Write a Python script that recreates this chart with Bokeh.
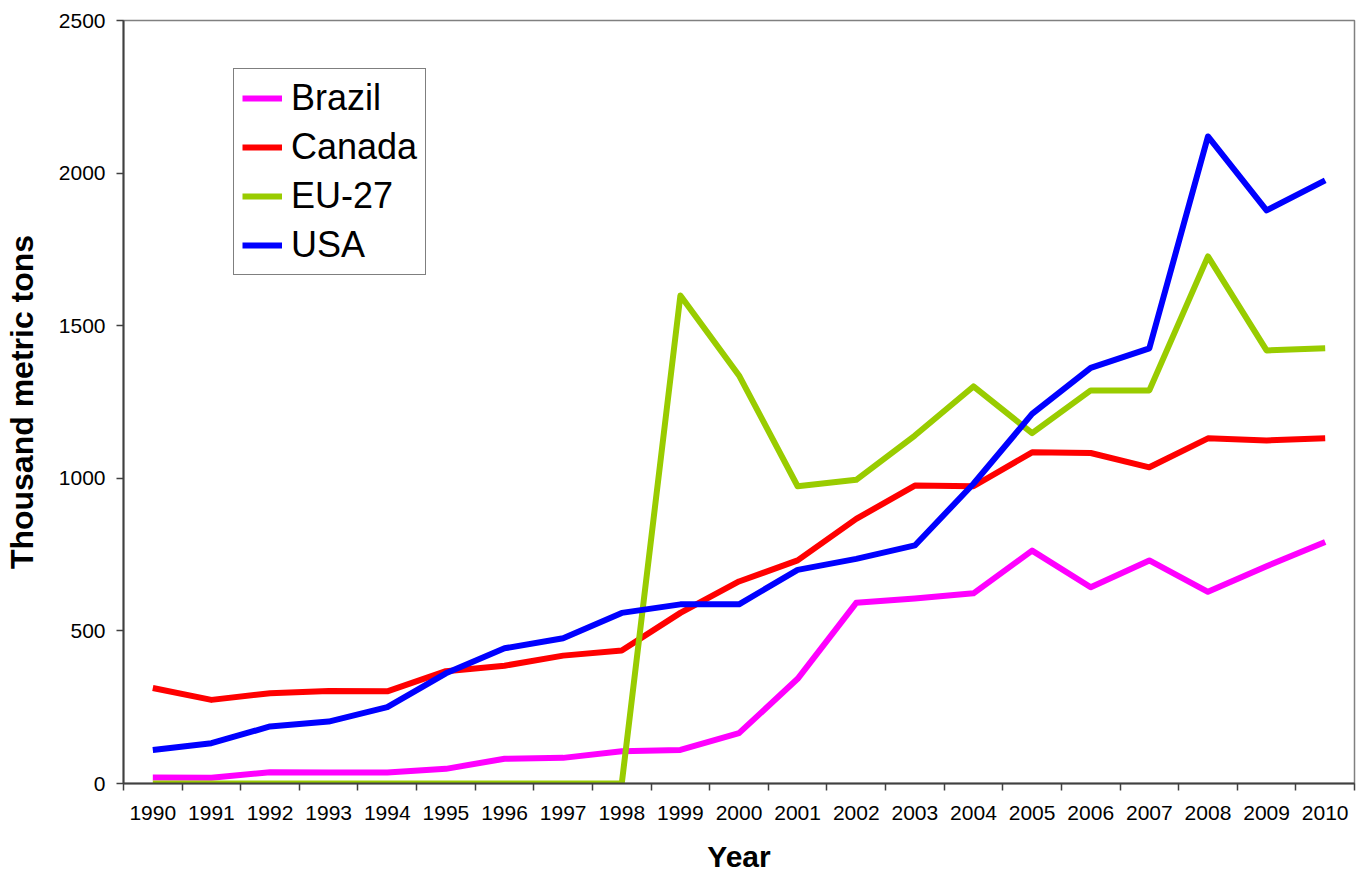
from bokeh.plotting import figure
from bokeh.models import (Range1d, FixedTicker, Legend, LegendItem, LinearAxis,
                          BasicTickFormatter)
from bokeh.embed import file_html
from bokeh.resources import INLINE

years = [1990, 1991, 1992, 1993, 1994, 1995, 1996, 1997, 1998, 1999, 2000,
         2001, 2002, 2003, 2004, 2005, 2006, 2007, 2008, 2009, 2010]
brazil = [20, 19, 37, 36, 36, 48, 81, 84, 106, 110, 165,
          343, 592, 606, 623, 763, 643, 731, 628, 712, 791]
canada = [313, 274, 296, 303, 302, 368, 386, 419, 436, 559, 662,
          731, 867, 976, 974, 1085, 1083, 1036, 1131, 1124, 1131]
eu27 = [0, 0, 0, 0, 0, 0, 0, 0, 0, 1599, 1337,
        974, 995, 1140, 1301, 1148, 1288, 1288, 1727, 1419, 1426]
usa = [110, 132, 187, 203, 250, 361, 443, 476, 559, 587, 587,
       700, 736, 780, 982, 1211, 1362, 1426, 2120, 1878, 1976]

series_names = ["Brazil", "Canada", "EU-27", "USA"]
series_values = [brazil, canada, eu27, usa]
series_colors = ["#FF00FF", "#FF0000", "#99CC00", "#0000FF"]
y_ticks = [0, 500, 1000, 1500, 2000, 2500]
grid_ticks = [500, 1000, 1500, 2000]

FONT = "Liberation Sans"

p = figure(width=1356, height=875, output_backend="svg", toolbar_location=None,
           x_range=Range1d(years[0] - 0.5, years[-1] + 0.5),
           y_range=Range1d(0, 2500),
           min_border_left=123, min_border_right=2, min_border_top=20,
           min_border_bottom=92, x_axis_type=None, y_axis_type=None)
p.outline_line_color = "#808080"
p.outline_line_width = 1.5

xaxis = LinearAxis(ticker=FixedTicker(ticks=years,
                                      minor_ticks=[y - 0.5 for y in years] + [years[-1] + 0.5]),
                   formatter=BasicTickFormatter(use_scientific=False))
xaxis.axis_label = "Year"
xaxis.axis_label_text_font = FONT
xaxis.axis_label_text_font_style = "bold"
xaxis.axis_label_text_font_size = "30px"
xaxis.axis_label_text_color = "black"
xaxis.axis_label_standoff = 17
xaxis.major_label_text_font = FONT
xaxis.major_label_text_font_size = "21px"
xaxis.major_label_text_color = "black"
xaxis.major_label_standoff = 15
xaxis.major_tick_out = 0
xaxis.major_tick_in = 0
xaxis.major_tick_line_color = None
xaxis.minor_tick_out = 7
xaxis.minor_tick_in = 0
xaxis.minor_tick_line_color = "#404040"
xaxis.minor_tick_line_width = 1.5
xaxis.axis_line_color = "#404040"
xaxis.axis_line_width = 2
p.add_layout(xaxis, "below")

yaxis = LinearAxis(ticker=FixedTicker(ticks=y_ticks, minor_ticks=[]),
                   formatter=BasicTickFormatter(use_scientific=False))
yaxis.axis_label = "Thousand metric tons"
yaxis.axis_label_text_font = FONT
yaxis.axis_label_text_font_style = "bold"
yaxis.axis_label_text_font_size = "32px"
yaxis.axis_label_text_color = "black"
yaxis.axis_label_standoff = 16
yaxis.major_label_text_font = FONT
yaxis.major_label_text_font_size = "21px"
yaxis.major_label_text_color = "black"
yaxis.major_label_standoff = 11
yaxis.major_tick_out = 7
yaxis.major_tick_in = 0
yaxis.major_tick_line_color = "#404040"
yaxis.major_tick_line_width = 1.5
yaxis.minor_tick_line_color = None
yaxis.axis_line_color = "#404040"
yaxis.axis_line_width = 2
p.add_layout(yaxis, "left")

p.ygrid.ticker = FixedTicker(ticks=grid_ticks)
p.ygrid.grid_line_color = "black"
p.ygrid.grid_line_width = 1
p.xgrid.visible = False

items = []
for name, vals, col in zip(series_names, series_values, series_colors):
    r = p.line(years, vals, line_color=col, line_width=6, line_join="round")
    items.append(LegendItem(label=name, renderers=[r]))

legend = Legend(items=items, location=(110, 508))
legend.label_text_font = FONT
legend.label_text_font_size = "36px"
legend.label_text_color = "black"
legend.glyph_width = 40
legend.glyph_height = 40
legend.label_standoff = 9
legend.spacing = 7
legend.padding = 8
legend.margin = 0
legend.border_line_color = "black"
legend.border_line_width = 1
legend.background_fill_color = "white"
legend.background_fill_alpha = 1
p.add_layout(legend, "center")

open("out.html", "w").write(file_html(p, INLINE))
